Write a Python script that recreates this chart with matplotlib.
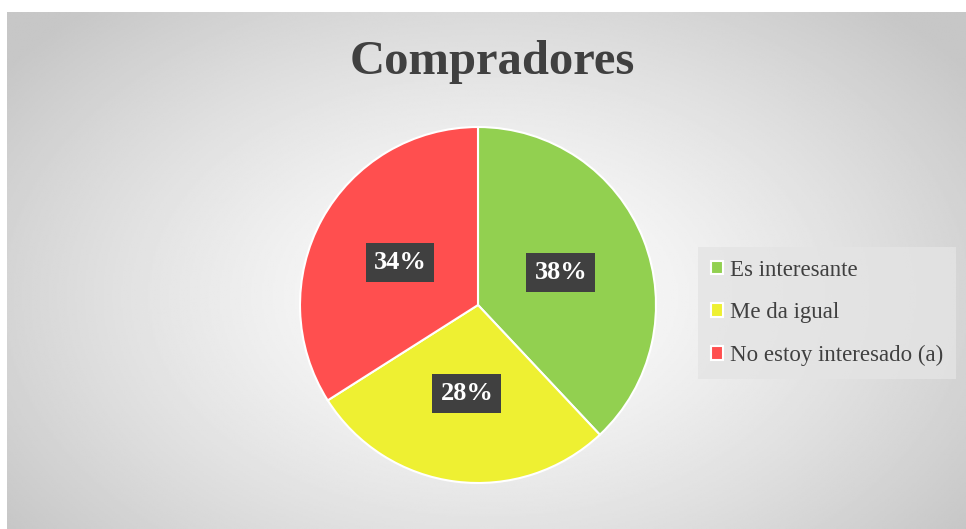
import matplotlib.pyplot as plt
import numpy as np

categorias = ["Es interesante", "Me da igual", "No estoy interesado (a)"]
porcentajes = [38, 28, 34]
colores = ["#92d050", "#eef032", "#ff4f4f"]
titulo = "Compradores"

W, H = 966, 529
fig = plt.figure(figsize=(W / 100, H / 100), dpi=100)
fig.patch.set_facecolor("white")

# fondo con degradado radial
bg = fig.add_axes([7 / W, 0, 1 - 7 / W, 1 - 12 / H])
yy, xx = np.mgrid[0:1:300j, 0:1:600j]
d = np.sqrt(((xx - 0.5) / 0.62) ** 2 + ((yy - 0.55) / 0.75) ** 2)
val = 1.0 - 0.22 * np.clip(d, 0, 1) ** 1.3
bg.imshow(val, cmap="gray", vmin=0, vmax=1, aspect="auto", extent=[0, 1, 0, 1])
bg.axis("off")

fig.text(0.510, 1 - 62 / H, titulo, ha="center", va="center", fontsize=35,
         fontweight="bold", color="#404040", family="Liberation Serif")

# pastel
r = 178
cx, cy = 478, H - 305
ax = fig.add_axes([(cx - r) / W, (cy - r) / H, 2 * r / W, 2 * r / H])
ax.set_facecolor("none")
wedges, texts = ax.pie(porcentajes, colors=colores, startangle=90, counterclock=False,
                       radius=1, labels=[f"{p}%" for p in porcentajes], labeldistance=0.5,
                       wedgeprops=dict(edgecolor="white", linewidth=1.5))
for t in texts:
    t.set_ha("center")
    t.set_va("center")
    t.set_color("white")
    t.set_fontsize(19)
    t.set_fontweight("bold")
    t.set_family("Liberation Serif")
    t.set_bbox(dict(boxstyle="square,pad=0.3", facecolor="#404040", edgecolor="none"))
ax.set_xlim(-1, 1)
ax.set_ylim(-1, 1)
ax.set_aspect("equal")

leg = fig.legend(wedges, categorias, loc="center left", bbox_to_anchor=(698 / W, 1 - 313 / H),
                 frameon=True, fancybox=False, handlelength=0.55, handleheight=0.55,
                 handletextpad=0.3, labelspacing=0.95, borderpad=0.55, borderaxespad=0,
                 prop={"family": "Liberation Serif", "size": 16.5})
leg.get_frame().set_facecolor("#e4e4e4")
leg.get_frame().set_edgecolor("none")
leg.get_frame().set_alpha(0.8)
for t in leg.get_texts():
    t.set_color("#404040")

fig.savefig("out.png", dpi=100)
